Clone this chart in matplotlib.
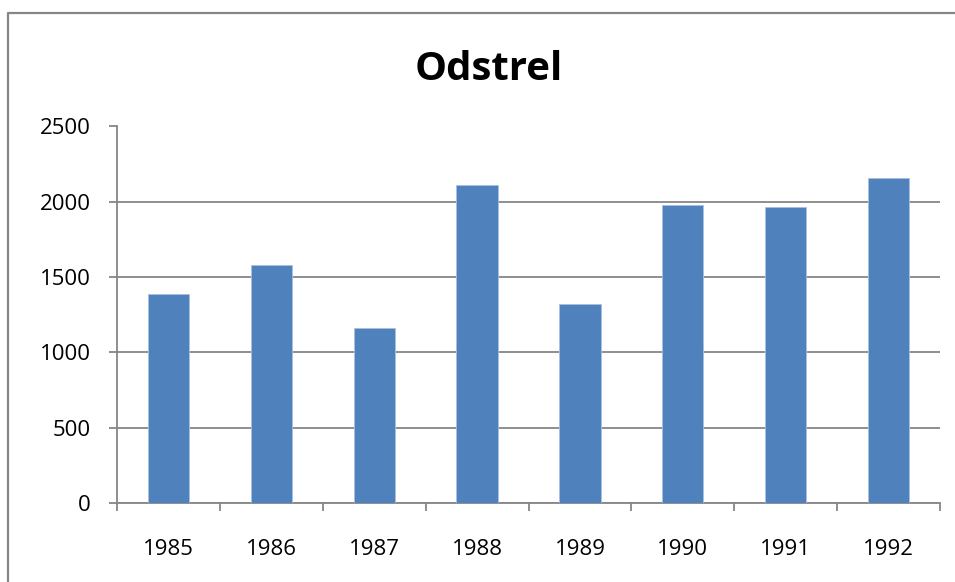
import matplotlib.pyplot as plt
from matplotlib.lines import Line2D
import numpy as np

plt.rcParams['font.family'] = ['Open Sans', 'DejaVu Sans']

years = ['1985', '1986', '1987', '1988', '1989', '1990', '1991', '1992']
odstrel = [1388, 1578, 1160, 2109, 1323, 1978, 1965, 2155]
y_ticks = [0, 500, 1000, 1500, 2000, 2500]

grey = '#868686'
blue = '#4F81BD'

fig = plt.figure(figsize=(9.55, 5.82), dpi=100)
ax = fig.add_axes([117/955, 79/582, 823/955, 376.5/582])

x = np.arange(len(years))
ax.bar(x, odstrel, width=0.40, color=blue, edgecolor='#A9C1E0', linewidth=0.6, zorder=3)

ax.set_xlim(-0.5, len(years) - 0.5)
ax.set_ylim(0, 2500)
ax.set_yticks(y_ticks)
ax.set_yticklabels([str(v) for v in y_ticks])
ax.set_xticks(x)
ax.set_xticklabels(years)
ax.set_xticks(np.arange(len(years) + 1) - 0.5, minor=True)

ax.yaxis.grid(True, color=grey, linewidth=1.3, zorder=0)
ax.set_axisbelow(True)
for s in ['top', 'right']:
    ax.spines[s].set_visible(False)
for s in ['left', 'bottom']:
    ax.spines[s].set_color(grey)
    ax.spines[s].set_linewidth(1.3)

ax.tick_params(axis='x', which='major', length=0, pad=26, labelsize=16)
ax.tick_params(axis='x', which='minor', length=6, width=1.3, color=grey, direction='out')
ax.tick_params(axis='y', length=6, width=1.3, color=grey, direction='out', pad=13, labelsize=16)

fig.text(488.5/955, 1 - 80/582, 'Odstrel', ha='center', va='baseline',
         fontsize=29, fontweight='bold')

# chart frame (left and top edges are inside the picture)
fig.add_artist(Line2D([8/955, 8/955, 1], [0, 1 - 13/582, 1 - 13/582],
                      transform=fig.transFigure, color=grey, linewidth=1.6))

fig.savefig('out.png', dpi=100)
